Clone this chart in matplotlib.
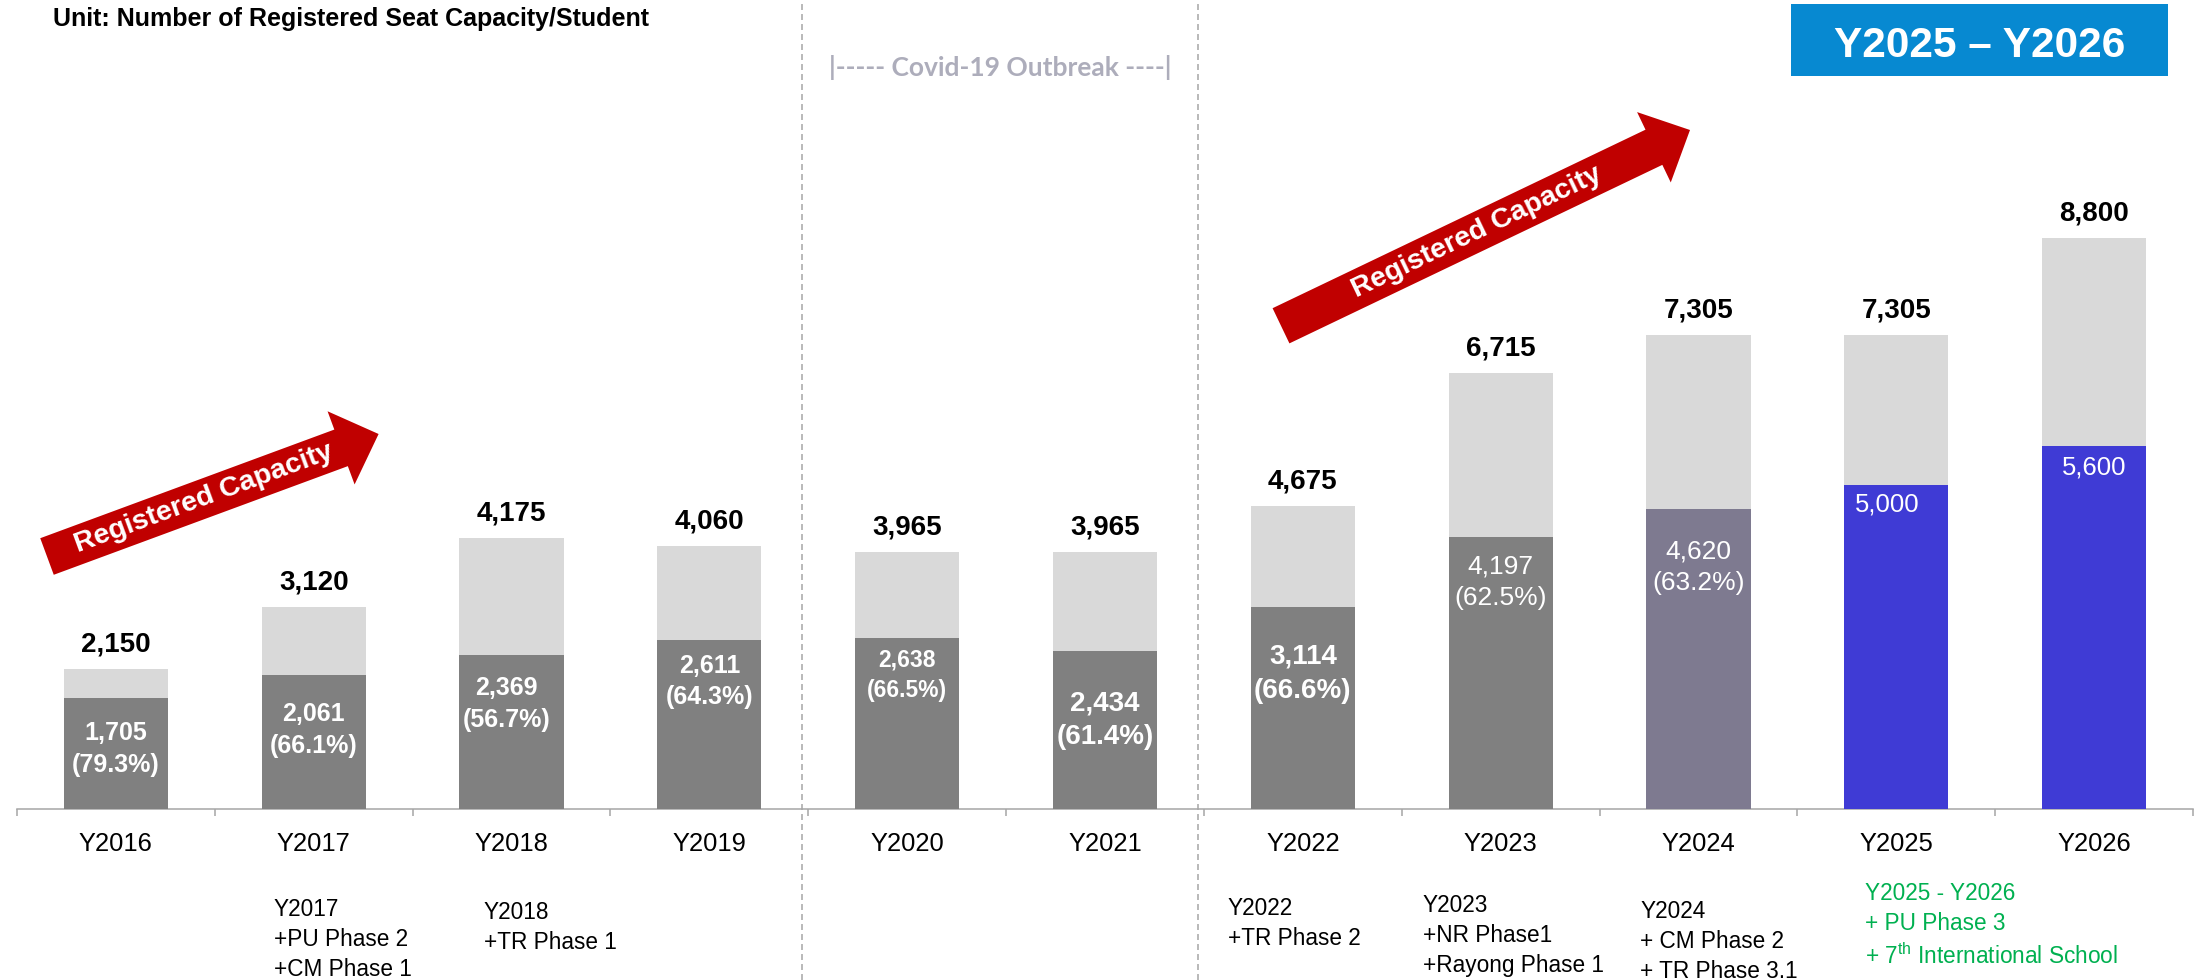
import matplotlib
matplotlib.use("Agg")
import matplotlib.pyplot as plt
from matplotlib.patches import Rectangle, FancyArrow
from matplotlib.transforms import blended_transform_factory
import numpy as np

# ---------------- data ----------------
years = ["Y2016", "Y2017", "Y2018", "Y2019", "Y2020", "Y2021",
         "Y2022", "Y2023", "Y2024", "Y2025", "Y2026"]
capacity = [2150, 3120, 4175, 4060, 3965, 3965, 4675, 6715, 7305, 7305, 8800]
students = [1705, 2061, 2369, 2611, 2638, 2434, 3114, 4197, 4620, 5000, 5600]
student_pct = [79.3, 66.1, 56.7, 64.3, 66.5, 61.4, 66.6, 62.5, 63.2, None, None]

note_years = ["Y2017", "Y2018", "Y2022", "Y2023", "Y2024", "Y2025"]
note_texts = [
    "Y2017\n+PU Phase 2\n+CM Phase 1",
    "Y2018\n+TR Phase 1",
    "Y2022\n+TR Phase 2",
    "Y2023\n+NR Phase1\n+Rayong Phase 1",
    "Y2024\n+ CM Phase 2\n+ TR Phase 3.1",
    "Y2025 - Y2026\n+ PU Phase 3\n+ 7$^{\\mathregular{th}}$ International School",
]

title = "Unit: Number of Registered Seat Capacity/Student"
covid_label = "|----- Covid-19 Outbreak ----|"
period_label = "Y2025 \u2013 Y2026"
arrow_label = "Registered Capacity"

# ---------------- style ----------------
plt.rcParams["font.family"] = ["Liberation Sans", "DejaVu Sans"]
plt.rcParams["mathtext.fontset"] = "custom"
plt.rcParams["mathtext.rm"] = "Liberation Sans"
plt.rcParams["lines.scale_dashes"] = False

W, H = 2195, 980
PX = 0.72  # points per pixel at dpi 100
base_y = 809
px_per_unit = 571 / 8800

light = "#D9D9D9"
student_colors = ["#808080"] * 8 + ["#7E7A90", "#3F3BD5", "#3F3BD5"]
inner_size = [18, 18, 18, 18, 16.5, 20, 20, 19, 19, 18.5, 18.5]
inner_bold = [True] * 7 + [False] * 4
inner_drop = [23, 27, 21, 14, 11, 39, 37, 18, 30, 8, 10]
inner_dx = [0, 0, -5, 0, 0, 0, 0, 0, 0, -9, 0]
note_dx = [-40, -28, -75, -78, -58, -31]
note_drop = [89, 92, 88, 84.5, 91, 73]
note_colors = ["black"] * 5 + ["#00B050"]

fig = plt.figure(figsize=(W / 100, H / 100), dpi=100)
ax = fig.add_axes([17 / W, (H - base_y) / H, 2176 / W, base_y / H])
x = np.arange(len(years))
ax.set_xlim(-0.5, len(years) - 0.5)
ax.set_ylim(0, base_y / px_per_unit)

bw = 0.527
ax.bar(x, capacity, width=bw, color=light, zorder=2)
ax.bar(x, students, width=bw, color=student_colors, zorder=3)

for i, v in enumerate(capacity):
    ax.annotate(f"{v:,}", (i, v), xytext=(0, 17.5 * PX), textcoords="offset points",
                ha="center", va="baseline", fontsize=20, fontweight="bold", color="black")

for i, s in enumerate(students):
    txt = f"{s:,}"
    if student_pct[i] is not None:
        txt += f"\n({student_pct[i]:.1f}%)"
    ax.annotate(txt, (i, s), xytext=(inner_dx[i] * PX, -inner_drop[i] * PX),
                textcoords="offset points", ha="center", va="top",
                multialignment="center", linespacing=1.4,
                fontsize=inner_size[i], fontweight="bold" if inner_bold[i] else "normal",
                color="white", zorder=5)

for sp in ["top", "right", "left"]:
    ax.spines[sp].set_visible(False)
ax.spines["bottom"].set_color("#A6A6A6")
ax.spines["bottom"].set_linewidth(1.1)
ax.set_yticks([])
ax.set_xticks(np.arange(-0.5, len(years), 1.0))
ax.set_xticklabels([])
ax.tick_params(axis="x", which="major", length=5, width=1.1, color="#A6A6A6", direction="out")
ax.set_xticks(x, years, minor=True)
ax.tick_params(axis="x", which="minor", length=0, pad=16.3, labelsize=18.4)

# separators between periods
btf = blended_transform_factory(ax.transData, fig.transFigure)
sep_x = [3.5 - 0.032, 5.5 - 0.032]
for sx in sep_x:
    ax.plot([sx, sx], [0, 1], transform=btf, clip_on=False, color="#A6A6A6",
            lw=1.1, linestyle=(0, (4.3, 2.9)), zorder=1)

fig.text(np.mean(sep_x), 1 - 67 / H, covid_label, transform=btf, ha="center", va="center",
         fontfamily="Lato", fontweight="bold", fontsize=19, color="#ADADBB")

for yr, t, dx, dd, c in zip(note_years, note_texts, note_dx, note_drop, note_colors):
    i = years.index(yr)
    ax.annotate(t, (i, 0), xytext=(dx * PX, -dd * PX), textcoords="offset points",
                ha="left", va="top", fontsize=16.3, color=c, linespacing=1.4,
                annotation_clip=False)

# overlay in pixel coordinates for decorations
ov = fig.add_axes([0, 0, 1, 1], zorder=5)
ov.set_xlim(0, W)
ov.set_ylim(H, 0)
ov.axis("off")
ov.patch.set_alpha(0)

fig.text(53 / W, 1 - 26 / H, title, ha="left", va="baseline", fontsize=18, fontweight="bold")

ov.add_patch(Rectangle((1791, 4), 377, 72, color="#0789D1", lw=0))
ov.text(1979.5, 57, period_label, ha="center", va="baseline", fontsize=30.5,
        fontweight="bold", color="white")


def red_arrow(tail, tip):
    tail = np.array(tail, float)
    tip = np.array(tip, float)
    d = tip - tail
    L = np.hypot(*d)
    u = d / L
    ov.add_patch(FancyArrow(tail[0], tail[1], d[0], d[1], width=39, head_width=78,
                            head_length=40, length_includes_head=True,
                            color="#C00000", lw=0))
    ang = np.degrees(np.arctan2(-d[1], d[0]))
    c = tail + u * ((L - 40) / 2 + 10)
    ov.text(c[0], c[1], arrow_label, rotation=ang, rotation_mode="anchor",
            ha="center", va="center", fontsize=20.5, fontweight="bold", color="white")


red_arrow((47, 556.5), (378.6, 434))
red_arrow((1281, 325.8), (1690, 130))

fig.savefig("out.png", dpi=100)
